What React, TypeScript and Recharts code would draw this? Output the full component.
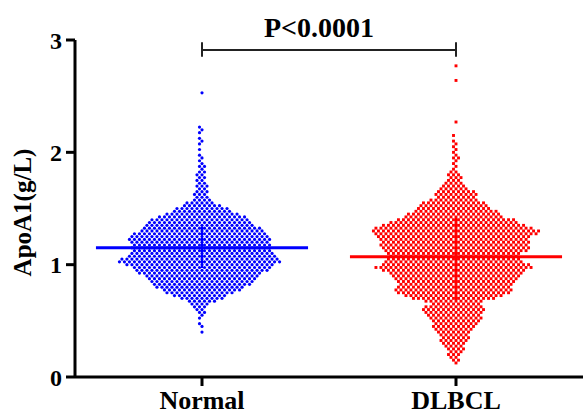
import React from "react"
import { ScatterChart, Scatter, XAxis, YAxis, ReferenceLine } from "recharts"

// groups and their x positions on the numeric axis
const groups = ["Normal", "DLBCL"]
const groupX = [1, 3]
const yTicks = [0, 1, 2, 3]

// dot counts per 0.025 g/L bin
const binStep = 0.025
const normalStart = 0.4
const normalCounts = [
  1, 0, 1, 1, 0, 1, 1, 2, 2, 3,
  4, 6, 9, 11, 14, 16, 18, 20, 21, 22,
  23, 25, 27, 28, 30, 33, 32, 30, 29, 28,
  28, 28, 28, 29, 28, 27, 25, 24, 22, 21,
  20, 18, 15, 12, 11, 8, 6, 4, 3, 3,
  3, 2, 3, 2, 2, 2, 2, 2, 1, 2,
  1, 1, 1, 1, 0, 1, 0, 1, 1, 1,
  0, 1, 1, 1,
]
const normalOutliers = [2.53]

const dlbclStart = 0.125
const dlbclCounts = [
  1, 2, 2, 3, 3, 4, 4, 5, 6, 6,
  6, 7, 8, 9, 9, 10, 11, 11, 12, 13,
  12, 10, 12, 17, 20, 23, 24, 23, 23, 24,
  25, 26, 27, 29, 32, 30, 28, 27, 26, 27,
  29, 30, 30, 30, 30, 31, 33, 34, 32, 29,
  26, 24, 20, 19, 17, 15, 14, 13, 10, 8,
  9, 8, 6, 5, 4, 3, 3, 3, 2, 1,
  1, 1, 1, 2, 1, 1, 1, 1, 1, 1,
  0, 1,
]
const dlbclOutliers = [2.27, 2.64, 2.77]

// median and interquartile range
const medians = [1.15, 1.07]
const q1 = [0.97, 0.68]
const q3 = [1.34, 1.42]
const pText = "P<0.0001"
const bracketY = 2.91

const font = "'Liberation Serif', 'Times New Roman', serif"
const dotGap = 0.0394 // horizontal spacing of dots, x units
const medianHalf = 0.835

// hex-packed rows: odd rows sit half a gap over, n slots closest to the centre
function swarm(center: number, start: number, counts: number[], outliers: number[]) {
  const pts: { x: number; y: number }[] = []
  counts.forEach((n, i) => {
    const y = start + i * binStep
    const shift = i % 2 ? 0.5 : 0
    const slots: number[] = []
    for (let j = -40; j <= 40; j++) slots.push(j + shift)
    slots.sort((a, b) => Math.abs(a) - Math.abs(b) || a - b)
    for (let k = 0; k < n; k++) pts.push({ x: center + slots[k] * dotGap, y })
  })
  outliers.forEach((y) => pts.push({ x: center, y }))
  return pts
}

const normalPts = swarm(groupX[0], normalStart, normalCounts, normalOutliers)
const dlbclPts = swarm(groupX[1], dlbclStart, dlbclCounts, dlbclOutliers)

const tickStyleY = { fill: "#000", fontSize: 24, fontWeight: "bold", fontFamily: font }
const tickStyleX = { fill: "#000", fontSize: 26, fontWeight: "bold", fontFamily: font }

export default function App() {
  return (
    <div style={{ width: 583, height: 414, background: "#fff", overflow: "hidden" }}>
      <style>{`body{margin:0}`}</style>
      <ScatterChart width={583} height={414} margin={{ top: 40, right: 0, bottom: 0, left: 0 }}>
        <XAxis
          type="number"
          dataKey="x"
          domain={[0, 4]}
          ticks={groupX}
          tickFormatter={(v) => groups[groupX.indexOf(v)] ?? ""}
          stroke="#000"
          strokeWidth={3}
          tickSize={9}
          tickMargin={5}
          height={37}
          tick={tickStyleX}
          allowDataOverflow
        />
        <YAxis
          type="number"
          dataKey="y"
          domain={[0, 3]}
          ticks={yTicks}
          stroke="#000"
          strokeWidth={3}
          tickSize={9}
          tickMargin={4}
          width={75}
          tick={tickStyleY}
          label={{
            value: "ApoA1(g/L)",
            angle: -90,
            position: "insideLeft",
            offset: 22,
            dy: 4,
            style: { textAnchor: "middle", fill: "#000", fontSize: 25, fontWeight: "bold", fontFamily: font },
          }}
        />
        <Scatter
          data={normalPts}
          isAnimationActive={false}
          shape={(p: any) => <circle cx={p.cx} cy={p.cy} r={1.6} fill="#0000ff" />}
        />
        <Scatter
          data={dlbclPts}
          isAnimationActive={false}
          shape={(p: any) => <rect x={p.cx - 1.45} y={p.cy - 1.45} width={2.9} height={2.9} fill="#ff0000" />}
        />
        {groupX.map((gx, i) => {
          const c = i === 0 ? "#0000ff" : "#ff0000"
          return (
            <React.Fragment key={gx}>
              <ReferenceLine
                segment={[{ x: gx, y: q1[i] }, { x: gx, y: q3[i] }]}
                stroke={c}
                strokeWidth={2}
              />
              <ReferenceLine
                segment={[{ x: gx - medianHalf, y: medians[i] }, { x: gx + medianHalf, y: medians[i] }]}
                stroke={c}
                strokeWidth={3}
              />
            </React.Fragment>
          )
        })}
        <ReferenceLine
          segment={[{ x: groupX[0], y: bracketY }, { x: groupX[1], y: bracketY }]}
          stroke="#222"
          strokeWidth={2}
          label={{
            value: pText,
            position: "top",
            offset: 13,
            dx: -10,
            fill: "#000",
            fontSize: 28,
            fontWeight: "bold",
            fontFamily: font,
          }}
        />
        <ReferenceLine
          segment={[{ x: groupX[0], y: bracketY - 0.06 }, { x: groupX[0], y: bracketY + 0.07 }]}
          stroke="#222"
          strokeWidth={2}
        />
        <ReferenceLine
          segment={[{ x: groupX[1], y: bracketY - 0.06 }, { x: groupX[1], y: bracketY + 0.07 }]}
          stroke="#222"
          strokeWidth={2}
        />
      </ScatterChart>
    </div>
  )
}
